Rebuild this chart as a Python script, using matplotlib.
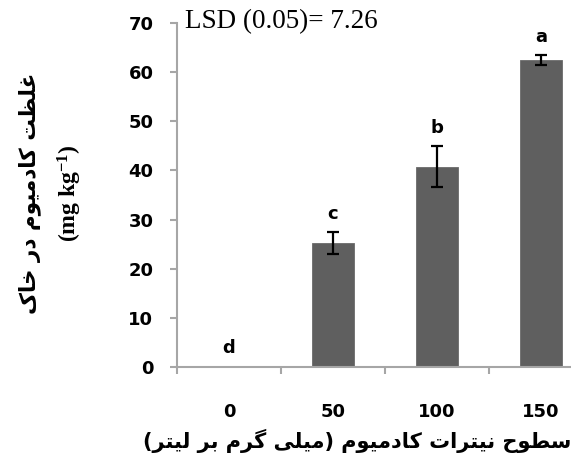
import numpy as np
import matplotlib
matplotlib.use("Agg")
import matplotlib.pyplot as plt

levels = ["0", "50", "100", "150"]
cd_soil = [0.0, 25.2, 40.8, 62.4]
cd_err = [0.0, 2.2, 4.1, 1.0]
groups = ["d", "c", "b", "a"]
lsd_text = "LSD (0.05)= 7.26"
ylab_fa = "غلظت کادمیوم در خاک"
ylab_unit = "(mg kg$^{-1}$)"
xlab_fa = "سطوح نیترات کادمیوم (میلی گرم بر لیتر)"

# arabic presentation forms: isolated, final, initial, medial
FORMS = {
    "ا": (0xFE8D, 0xFE8E, None, None),
    "ب": (0xFE8F, 0xFE90, 0xFE91, 0xFE92),
    "ت": (0xFE95, 0xFE96, 0xFE97, 0xFE98),
    "ح": (0xFEA1, 0xFEA2, 0xFEA3, 0xFEA4),
    "خ": (0xFEA5, 0xFEA6, 0xFEA7, 0xFEA8),
    "د": (0xFEA9, 0xFEAA, None, None),
    "ر": (0xFEAD, 0xFEAE, None, None),
    "س": (0xFEB1, 0xFEB2, 0xFEB3, 0xFEB4),
    "ط": (0xFEC1, 0xFEC2, 0xFEC3, 0xFEC4),
    "ظ": (0xFEC5, 0xFEC6, 0xFEC7, 0xFEC8),
    "غ": (0xFECD, 0xFECE, 0xFECF, 0xFED0),
    "ل": (0xFEDD, 0xFEDE, 0xFEDF, 0xFEE0),
    "م": (0xFEE1, 0xFEE2, 0xFEE3, 0xFEE4),
    "ن": (0xFEE5, 0xFEE6, 0xFEE7, 0xFEE8),
    "و": (0xFEED, 0xFEEE, None, None),
    "ک": (0xFB8E, 0xFB8F, 0xFB90, 0xFB91),
    "گ": (0xFB92, 0xFB93, 0xFB94, 0xFB95),
    "ی": (0xFBFC, 0xFBFD, 0xFBFE, 0xFBFF),
}


def rtl(text):
    out = []
    for i, ch in enumerate(text):
        if ch not in FORMS:
            out.append(ch)
            continue
        prev = text[i - 1] if i > 0 else ""
        nxt = text[i + 1] if i + 1 < len(text) else ""
        iso, fin, ini, med = FORMS[ch]
        jp = prev in FORMS and FORMS[prev][2] is not None
        jn = ini is not None and nxt in FORMS
        if jp and jn:
            c = med
        elif jp:
            c = fin
        elif jn:
            c = ini
        else:
            c = iso
        out.append(chr(c))
    s = "".join(out)[::-1]
    return s.translate(str.maketrans("()", ")("))


plt.rcParams["mathtext.fontset"] = "custom"
plt.rcParams["mathtext.rm"] = "Liberation Serif:bold"
plt.rcParams["mathtext.default"] = "rm"

fig = plt.figure(figsize=(5.71, 4.63), dpi=100)
ax = fig.add_axes([0.31, 0.2073, 0.69, 0.743])

x = np.arange(len(levels))
ax.bar(x, cd_soil, width=0.41, color="#5f5f5f", edgecolor="#6a6a6a", linewidth=0.6, zorder=2)
ax.errorbar(x[1:], cd_soil[1:], yerr=cd_err[1:], fmt="none", ecolor="black",
            elinewidth=1.6, capsize=4.5, capthick=1.6, zorder=3)

for xi, v, e, g in zip(x, cd_soil, cd_err, groups):
    ax.annotate(g, (xi, v + e), xytext=(0, 7), textcoords="offset points",
                ha="center", va="bottom", fontsize=13, fontweight="bold")

ax.set_xlim(-0.5, 3.29)
ax.set_ylim(0, 70)
ax.set_yticks(np.arange(0, 71, 10))
ax.set_xticks(x)
ax.set_xticklabels(levels)
ax.set_xticks(np.arange(-0.5, 3.0, 1.0), minor=True)
ax.tick_params(axis="x", which="major", length=0, pad=26, labelsize=13)
ax.tick_params(axis="x", which="minor", length=5, width=1.5, color="#a6a6a6", direction="out")
ax.tick_params(axis="y", length=5, width=1.5, color="#a6a6a6", direction="out", pad=12, labelsize=13)
for lab in ax.get_xticklabels() + ax.get_yticklabels():
    lab.set_fontweight("bold")

for s in ["top", "right"]:
    ax.spines[s].set_visible(False)
for s in ["left", "bottom"]:
    ax.spines[s].set_color("#a6a6a6")
    ax.spines[s].set_linewidth(1.5)

fig.text(185 / 571, 1 - 22 / 463, lsd_text, family="Liberation Serif", fontsize=19.5,
         ha="left", va="center")
fig.text(30 / 571, 1 - 193 / 463, rtl(ylab_fa), family="DejaVu Sans", fontweight="bold",
         fontsize=15.5, rotation=90, ha="center", va="center")
fig.text(70 / 571, 1 - 193 / 463, ylab_unit, family="Liberation Serif", fontweight="bold",
         fontsize=17, rotation=90, ha="center", va="center")
fig.text(571 / 571, 1 - 441 / 463, rtl(xlab_fa), family="DejaVu Sans", fontweight="bold",
         fontsize=15, ha="right", va="center")

fig.savefig("out.png", dpi=100)
